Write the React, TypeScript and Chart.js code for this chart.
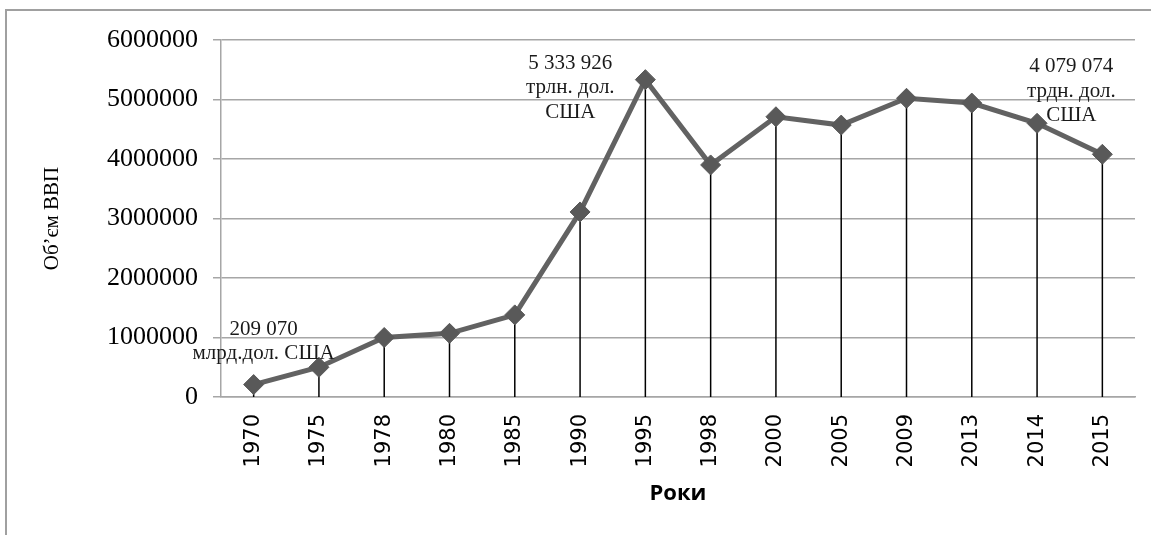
import React, { useEffect, useRef } from "react";
import { Chart, registerables } from "chart.js";

Chart.register(...registerables);

// ---- data ----
const years = ["1970", "1975", "1978", "1980", "1985", "1990", "1995", "1998", "2000", "2005", "2009", "2013", "2014", "2015"];
const gdp = [209070, 500000, 1000000, 1070000, 1380000, 3110000, 5333926, 3900000, 4710000, 4570000, 5020000, 4940000, 4600000, 4079074];
const yTickValues = [0, 1000000, 2000000, 3000000, 4000000, 5000000, 6000000];
const yTitle = "Об’єм ВВП";
const xTitle = "Роки";
const noteIndices = [0, 6, 13];
const noteLines = [
  ["209 070", "млрд.дол. США"],
  ["5 333 926", "трлн. дол.", "США"],
  ["4 079 074", "трдн. дол.", "США"],
];

// ---- styles ----
const noteOffsets = [
  { dx: 10, dy: -50 },
  { dx: -75, dy: -11 },
  { dx: -31, dy: -82 },
];
const noteLineHeight = 24.5;
const gridColor = "#a6a6a6";
const serif = "'Liberation Serif', 'Times New Roman', serif";

const dropLines = {
  id: "dropLines",
  beforeDatasetsDraw(chart: any) {
    const meta = chart.getDatasetMeta(0);
    const yScale = chart.scales.y;
    const base = yScale.getPixelForValue(0);
    const ctx = chart.ctx;
    ctx.save();
    ctx.strokeStyle = "#000000";
    ctx.lineWidth = 1.5;
    meta.data.forEach((pt: any) => {
      ctx.beginPath();
      ctx.moveTo(pt.x, pt.y);
      ctx.lineTo(pt.x, base);
      ctx.stroke();
    });
    ctx.restore();
  },
};

const notes = {
  id: "notes",
  afterDatasetsDraw(chart: any) {
    const meta = chart.getDatasetMeta(0);
    const ctx = chart.ctx;
    ctx.save();
    ctx.fillStyle = "#1a1a1a";
    ctx.font = `21px ${serif}`;
    ctx.textAlign = "center";
    ctx.textBaseline = "alphabetic";
    noteIndices.forEach((idx, i) => {
      const pt = meta.data[idx];
      const off = noteOffsets[i];
      noteLines[i].forEach((line, j) => {
        ctx.fillText(line, pt.x + off.dx, pt.y + off.dy + j * noteLineHeight);
      });
    });
    ctx.restore();
  },
};

export default function App() {
  const ref = useRef<HTMLCanvasElement | null>(null);

  useEffect(() => {
    if (!ref.current) return;
    const chart = new Chart(ref.current, {
      type: "line",
      data: {
        labels: years,
        datasets: [
          {
            data: gdp,
            borderColor: "#626262",
            borderWidth: 5,
            pointStyle: "rectRot",
            pointRadius: 10,
            pointBackgroundColor: "#595959",
            pointBorderColor: "#595959",
            pointBorderWidth: 1,
            tension: 0,
          },
        ],
      },
      options: {
        responsive: false,
        animation: false,
        layout: { padding: { left: 0, top: 40, right: 16, bottom: 0 } },
        plugins: {
          legend: { display: false },
          tooltip: { enabled: false },
        },
        scales: {
          x: {
            type: "category",
            offset: true,
            grid: { display: false, drawTicks: false },
            border: { display: true, color: gridColor, width: 1.5 },
            ticks: {
              autoSkip: false,
              minRotation: 90,
              maxRotation: 90,
              padding: 17,
              color: "#000000",
              font: { family: "'DejaVu Sans', sans-serif", size: 21 },
            },
            title: {
              display: true,
              text: xTitle,
              color: "#000000",
              font: { family: "'Open Sans', sans-serif", size: 22, weight: "bold" },
              padding: { top: 0, bottom: 28 },
            },
            afterFit(scale: any) {
              scale.height = 138;
            },
          },
          y: {
            min: 0,
            max: 6000000,
            afterBuildTicks(scale: any) {
              scale.ticks = yTickValues.map((v) => ({ value: v }));
            },
            grid: { color: gridColor, lineWidth: 1.5, drawTicks: true, tickLength: 8 },
            border: { display: true, color: gridColor, width: 1.5 },
            ticks: {
              padding: 15,
              color: "#000000",
              font: { family: serif, size: 26 },
              callback: (v: any) => String(v),
            },
            title: {
              display: true,
              text: yTitle,
              color: "#000000",
              font: { family: serif, size: 21, weight: "normal" },
              padding: { top: 40, bottom: 0 },
            },
            afterFit(scale: any) {
              scale.width = 221;
            },
          },
        },
      },
      plugins: [dropLines, notes],
    });
    return () => chart.destroy();
  }, []);

  return (
    <div style={{ position: "absolute", left: 0, top: 0, width: 1151, height: 535, overflow: "hidden", background: "#ffffff" }}>
      <canvas ref={ref} width={1151} height={535} style={{ position: "absolute", left: 0, top: 0, width: 1151, height: 535 }} />
      <div
        style={{
          position: "absolute",
          left: 5,
          top: 9,
          width: 1300,
          height: 700,
          borderLeft: "2px solid #a0a0a0",
          borderTop: "2px solid #a0a0a0",
          pointerEvents: "none",
        }}
      />
    </div>
  );
}
